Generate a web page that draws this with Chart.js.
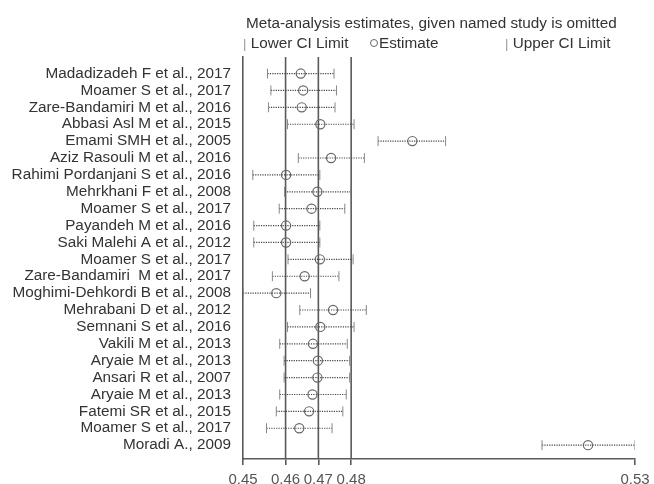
<!DOCTYPE html>
<html>
<head>
<meta charset="utf-8">
<script src="https://cdn.jsdelivr.net/npm/chart.js@4.4.0/dist/chart.umd.min.js"></script>
<style>
  html, body { margin: 0; padding: 0; background: #fff; }
  #wrap { position: relative; width: 654px; height: 484px; font-family: "Liberation Sans", Arial, sans-serif; color: #333; }
  canvas { position: absolute; left: 0; top: 0; }
  .t { position: absolute; font-size: 15.3px; white-space: nowrap; line-height: 18px; }
  .bar { color: #999; font-size: 13px; }
  .circ { display: inline-block; width: 6px; height: 6px; border: 1px solid #666; border-radius: 50%; margin-right: 1px; vertical-align: 1px; }
</style>
</head>
<body>
<div id="wrap">
  <canvas id="c" width="654" height="484"></canvas>
  <div class="t" style="left:246px; top:14px;">Meta-analysis estimates, given named study is omitted</div>
  <div class="t" style="left:243px; top:34px;"><span class="bar">|</span> Lower CI Limit</div>
  <div class="t" style="left:370px; top:34px;"><span class="circ"></span>Estimate</div>
  <div class="t" style="left:505px; top:34px;"><span class="bar">|</span> Upper CI Limit</div>
</div>
<script>
const studies = [
  "Madadizadeh F et al., 2017",
  "Moamer S et al., 2017",
  "Zare-Bandamiri M et al., 2016",
  "Abbasi Asl M et al., 2015",
  "Emami SMH et al., 2005",
  "Aziz Rasouli M et al., 2016",
  "Rahimi Pordanjani S et al., 2016",
  "Mehrkhani F et al., 2008",
  "Moamer S et al., 2017",
  "Payandeh M et al., 2016",
  "Saki Malehi A et al., 2012",
  "Moamer S et al., 2017",
  "Zare-Bandamiri  M et al., 2017",
  "Moghimi-Dehkordi B et al., 2008",
  "Mehrabani D et al., 2012",
  "Semnani S et al., 2016",
  "Vakili M et al., 2013",
  "Aryaie M et al., 2013",
  "Ansari R et al., 2007",
  "Aryaie M et al., 2013",
  "Fatemi SR et al., 2015",
  "Moamer S et al., 2017",
  "Moradi A., 2009"
];
const lowerCI = [0.4588, 0.4595, 0.4590, 0.4629, 0.4814, 0.4651, 0.4558, 0.4623, 0.4612, 0.4560, 0.4560, 0.4630, 0.4598, 0.4538, 0.4654, 0.4629, 0.4613, 0.4622, 0.4622, 0.4613, 0.4606, 0.4586, 0.5149];
const estimate = [0.4656, 0.4661, 0.4658, 0.4696, 0.4884, 0.4718, 0.4626, 0.4690, 0.4678, 0.4626, 0.4626, 0.4695, 0.4664, 0.4606, 0.4722, 0.4696, 0.4681, 0.4691, 0.4690, 0.4680, 0.4673, 0.4653, 0.5243];
const upperCI = [0.4724, 0.4729, 0.4726, 0.4765, 0.4952, 0.4786, 0.4695, 0.4758, 0.4746, 0.4695, 0.4695, 0.4763, 0.4734, 0.4676, 0.4790, 0.4765, 0.4751, 0.4756, 0.4756, 0.4749, 0.4742, 0.4720, 0.5339];
// overall (all studies) lower CI, estimate, upper CI
const overall = [0.4625, 0.4692, 0.4759];

const xMin = Math.min(...lowerCI);
const xMax = Math.max(...upperCI);
const xTicks = [xMin, ...overall, xMax];
const yMin = -0.98, yMax = 22.82;

const lineColor = '#5a5a5a';

// dotted CI segments, separated by null points
const ciData = [];
studies.forEach((s, i) => {
  ciData.push({x: lowerCI[i], y: i}, {x: upperCI[i], y: i}, {x: null, y: null});
});

const datasets = [];
overall.forEach(v => {
  datasets.push({
    type: 'scatter', showLine: true, data: [{x: v, y: yMin}, {x: v, y: yMax}],
    borderColor: lineColor, borderWidth: 1.6, pointRadius: 0, order: 5
  });
});
datasets.push({
  type: 'scatter', showLine: true, spanGaps: false, data: ciData,
  borderColor: '#444', borderWidth: 1.2, borderDash: [1.2, 1.2], pointRadius: 0, order: 4
});
datasets.push({
  type: 'scatter', data: lowerCI.map((v, i) => ({x: v, y: i})),
  pointStyle: 'line', rotation: 90, radius: 5, borderColor: '#888', borderWidth: 1, order: 3
});
datasets.push({
  type: 'scatter', data: upperCI.map((v, i) => ({x: v, y: i})),
  pointStyle: 'line', rotation: 90, radius: 5, borderColor: '#888', borderWidth: 1, order: 3
});
datasets.push({
  type: 'scatter', data: estimate.map((v, i) => ({x: v, y: i})),
  pointStyle: 'circle', radius: 4.6, borderColor: '#666', backgroundColor: 'rgba(0,0,0,0)', borderWidth: 1.2, order: 1
});

new Chart(document.getElementById('c'), {
  type: 'scatter',
  data: { datasets },
  options: {
    responsive: false,
    animation: false,
    layout: { padding: { top: 57, right: 19, left: 0, bottom: 0 } },
    plugins: { legend: { display: false }, tooltip: { enabled: false }, title: { display: false } },
    scales: {
      x: {
        type: 'linear', min: xMin, max: xMax,
        afterBuildTicks: s => { s.ticks = xTicks.map(v => ({value: v})); },
        afterFit: s => { s.height = 25; },
        ticks: {
          autoSkip: false, maxRotation: 0, minRotation: 0, padding: 4,
          color: '#555', font: { family: 'Liberation Sans', size: 15, lineHeight: 1.4 },
          callback: v => Number(v).toFixed(2)
        },
        grid: { display: true, drawOnChartArea: false, drawTicks: true, tickLength: 6, color: lineColor, lineWidth: 1.6 },
        border: { display: true, color: lineColor, width: 1.6 }
      },
      y: {
        type: 'linear', min: yMin, max: yMax, reverse: true,
        afterBuildTicks: s => { s.ticks = studies.map((_, i) => ({value: i})); },
        afterFit: s => { s.width = 243; },
        ticks: {
          autoSkip: false, padding: 12, color: '#333',
          font: { family: 'Liberation Sans', size: 15.3 },
          callback: v => studies[v]
        },
        grid: { display: false, drawTicks: false },
        border: { display: true, color: lineColor, width: 1.6 }
      }
    }
  }
});
</script>
</body>
</html>
